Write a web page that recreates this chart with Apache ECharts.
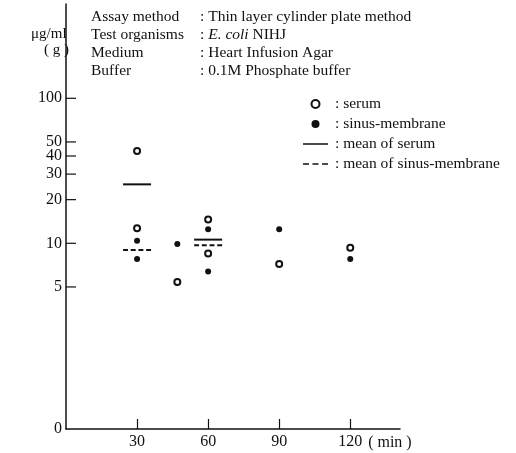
<!DOCTYPE html>
<html>
<head>
<meta charset="utf-8">
<script src="https://cdn.jsdelivr.net/npm/echarts@6/dist/echarts.min.js"></script>
<style>
  html, body { margin: 0; padding: 0; background: #fff; }
  #chart { width: 516px; height: 453px; }
</style>
</head>
<body>
<div id="chart"></div>
<script>
// time (min) / concentration pairs
const xTicks = [30, 60, 90, 120]
const yTicks = [5, 10, 20, 30, 40, 50, 100]
const serum = [[30, 43.3], [30, 12.7], [47, 5.4], [60, 14.6], [60, 8.5], [90, 7.2], [120, 9.3]]
const sinus = [[30, 10.4], [30, 7.8], [47, 9.9], [60, 12.5], [60, 6.4], [90, 12.5], [120, 7.8]]
const meanSerum = [[30, 25.5], [60, 10.6]]
const meanSinus = [[30, 9.0], [60, 9.7]]
const yMin = 0.524
const yMax = 447

const ink = '#111'
const serif = '"Liberation Serif", "DejaVu Serif", serif'
const barPath = 'path://M0,0H20V1H0Z'
const dashPath = 'path://M0,0H3.5V1H0Z M5.5,0H9V1H5.5Z M11,0H14.5V1H11Z M16.5,0H20V1H16.5Z'
// legend icons: hairline corners keep the 25x8 box so the strip stays thin
const barIcon = 'path://M0,0H25V0.01H0Z M0,3.2H25V4.8H0Z M0,7.99H25V8H0Z'
const dashIcon = 'path://M0,0H25V0.01H0Z M0,3.2H6V4.8H0Z M9.5,3.2H15.5V4.8H9.5Z M19,3.2H25V4.8H19Z M0,7.99H25V8H0Z'

const chart = echarts.init(document.getElementById('chart'))

const tickData = [[0, yMin, 0]].concat(yTicks.map((v) => [0, v, 10]))

const option = {
  animation: false,
  title: [
    {
      left: 86,
      top: 3,
      text: 'Assay method\nTest organisms\nMedium\nBuffer',
      textStyle: { fontFamily: serif, fontSize: 15.5, fontWeight: 'normal', color: ink, lineHeight: 18 }
    },
    {
      left: 195,
      top: 3,
      text: ': Thin layer cylinder plate method\n: {i|E. coli} NIHJ\n: Heart Infusion Agar\n: 0.1M Phosphate buffer',
      textStyle: {
        fontFamily: serif, fontSize: 15.5, fontWeight: 'normal', color: ink, lineHeight: 18,
        rich: {
          i: { fontFamily: serif, fontSize: 15.5, fontStyle: 'italic', fontWeight: 'normal', color: ink, lineHeight: 18 }
        }
      }
    },
    {
      left: 26,
      top: 21,
      text: '{u|μg/ml}\n{g|( g )}',
      textStyle: {
        fontWeight: 'normal',
        rich: {
          u: { fontFamily: serif, fontSize: 15, fontWeight: 'normal', color: ink, lineHeight: 16 },
          g: { fontFamily: serif, fontSize: 15, fontWeight: 'normal', color: ink, lineHeight: 16, padding: [0, 0, 0, 13] }
        }
      }
    }
  ],
  legend: {
    orient: 'vertical',
    left: 298,
    top: 91,
    itemWidth: 25,
    itemHeight: 8,
    itemGap: 4,
    selectedMode: false,
    data: [
      { name: 'serum', itemStyle: { borderWidth: 1.2 } },
      { name: 'sinus-membrane' },
      { name: 'mean of serum', icon: barIcon },
      { name: 'mean of sinus-membrane', icon: dashIcon }
    ],
    formatter: (name) => ': ' + name,
    textStyle: { fontFamily: serif, fontSize: 15.5, color: ink, lineHeight: 14, padding: [0, 0, 0, 2] }
  },
  grid: { left: 66, right: 116, top: 4, bottom: 24 },
  xAxis: {
    type: 'value',
    min: 0,
    max: 141,
    name: '( min )',
    nameLocation: 'end',
    nameGap: -32,
    nameTextStyle: { fontFamily: serif, fontSize: 16, color: ink, align: 'left', verticalAlign: 'top', padding: [6, 0, 0, 0] },
    axisLine: { lineStyle: { color: ink, width: 1.5 } },
    axisTick: { inside: true, length: 10, lineStyle: { color: ink, width: 1.2 }, customValues: xTicks },
    axisLabel: { color: ink, fontFamily: serif, fontSize: 16, margin: 5, customValues: xTicks },
    splitLine: { show: false }
  },
  yAxis: {
    type: 'log',
    logBase: 10,
    min: yMin,
    max: yMax,
    axisLine: { show: true, lineStyle: { color: ink, width: 1.5 } },
    axisTick: { show: false },
    axisLabel: { show: false },
    splitLine: { show: false }
  },
  series: [
    {
      // y ticks and labels placed through the log scale
      type: 'custom',
      silent: true,
      clip: false,
      data: tickData,
      renderItem: (params, api) => {
        const p = api.coord([api.value(0), api.value(1)])
        const len = api.value(2)
        const v = api.value(1)
        return {
          type: 'group',
          children: [
            {
              type: 'line',
              shape: { x1: p[0], y1: p[1], x2: p[0] + len, y2: p[1] },
              style: { stroke: ink, lineWidth: 1.2 }
            },
            {
              type: 'text',
              x: p[0] - 4,
              y: p[1],
              style: {
                text: v < 1 ? '0' : String(v),
                align: 'right',
                verticalAlign: 'middle',
                fontFamily: serif,
                fontSize: 16,
                fill: ink
              }
            }
          ]
        }
      }
    },
    {
      name: 'serum',
      type: 'scatter',
      symbol: 'emptyCircle',
      symbolSize: 6,
      data: serum,
      itemStyle: { color: ink, borderColor: ink, borderWidth: 1.4, opacity: 1 }
    },
    {
      name: 'sinus-membrane',
      type: 'scatter',
      symbol: 'circle',
      symbolSize: 6,
      data: sinus,
      itemStyle: { color: ink, opacity: 1 }
    },
    {
      name: 'mean of serum',
      type: 'scatter',
      symbol: barPath,
      symbolSize: [28, 2],
      data: meanSerum,
      itemStyle: { color: ink, opacity: 1 }
    },
    {
      name: 'mean of sinus-membrane',
      type: 'scatter',
      symbol: dashPath,
      symbolSize: [28, 2],
      data: meanSinus,
      itemStyle: { color: ink, opacity: 1 }
    }
  ]
}

chart.setOption(option)
window.addEventListener('resize', () => {
  chart.resize()
})
</script>
</body>
</html>
